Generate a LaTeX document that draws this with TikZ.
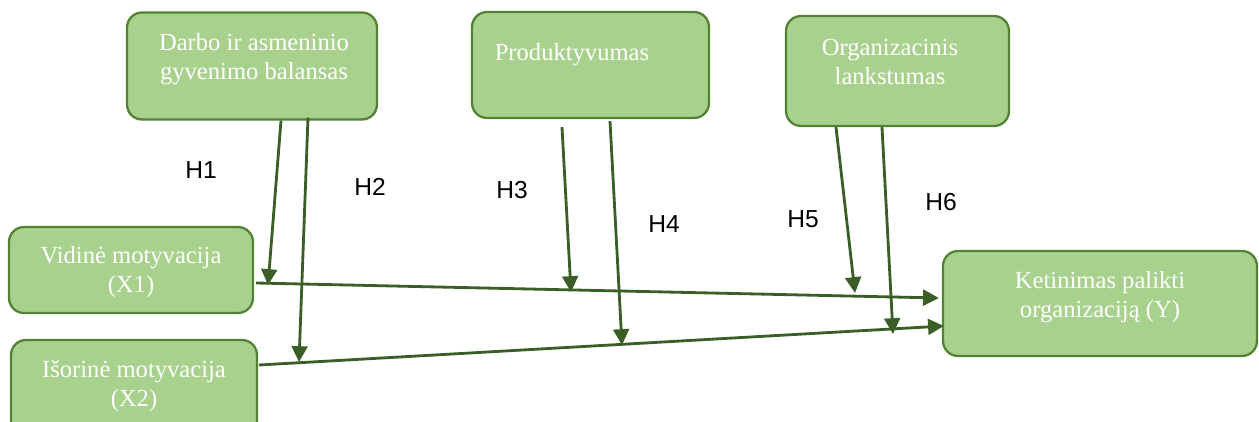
\documentclass[tikz,border=0pt]{standalone}
\usepackage{fontspec}
\setmainfont{Liberation Serif}
\newfontfamily\hfont{Liberation Sans}
\usetikzlibrary{calc,arrows.meta}

\definecolor{boxfill}{HTML}{A9D18E}
\definecolor{boxline}{HTML}{548235}
\definecolor{arrline}{HTML}{3B5E26}

\tikzset{
  varbox/.style={draw=boxline,line width=1.3pt,fill=boxfill,rounded corners=0.3cm},
  boxtext/.style={text=white,align=center,font=\fontsize{14}{16.5}\selectfont},
  arr/.style={draw=arrline,line width=1.6pt,-{Triangle[width=9pt,length=9pt]}},
  hyp/.style={font=\hfont\fontsize{14}{16}\selectfont}
}

\begin{document}
\begin{tikzpicture}[x=0.02cm,y=-0.02cm]
  \useasboundingbox (0,0) rectangle (1259,422);
  % moderators
  \node[varbox,minimum width=5cm,minimum height=2.14cm] (bal) at (252,66) {};
  \node[varbox,minimum width=4.74cm,minimum height=2.12cm] (prod) at (590.5,65) {};
  \node[varbox,minimum width=4.46cm,minimum height=2.2cm] (lank) at (897.5,71) {};
  \node[boxtext] (tbal) at ($(bal.center)+(2,-7)$) {Darbo ir asmeninio\\gyvenimo balansas};
  \node[boxtext] (tprod) at ($(prod.center)+(-18.5,-10)$) {Produktyvumas};
  \node[boxtext] (tlank) at ($(lank.center)+(-7.5,-9)$) {Organizacinis\\lankstumas};
  % independent and dependent variables
  \node[varbox,minimum width=4.88cm,minimum height=1.72cm] (x1) at (131,270) {};
  \node[varbox,minimum width=4.92cm,minimum height=2cm] (x2) at (134,390) {};
  \node[varbox,minimum width=6.28cm,minimum height=2.1cm] (y) at (1100,303.5) {};
  \node[boxtext] (tx1) at ($(x1.center)+(0,2.5)$) {Vidinė motyvacija\\(X1)};
  \node[boxtext] (tx2) at ($(x2.center)+(0,-4)$) {Išorinė motyvacija\\(X2)};
  \node[boxtext] (ty) at ($(y.center)+(0,-6)$) {Ketinimas palikti\\organizaciją (Y)};

  % main paths
  \draw[arr] ($(x1.east)+(2,13)$) -- ($(y.west)+(-3,-5.5)$);
  \draw[arr] ($(x2.east)+(1,-25)$) -- ($(y.west)+(2,22.5)$);

  % moderating arrows
  \coordinate (h1) at (268,285);
  \coordinate (h2) at (299,362);
  \coordinate (h3) at (571,292);
  \coordinate (h4) at (622,345);
  \coordinate (h5) at (855,293);
  \coordinate (h6) at (893,334);
  \draw[arr] ($(bal.south)+(29,0)$) -- (h1);
  \draw[arr] ($(bal.south)+(56,-3)$) -- (h2);
  \draw[arr] ($(prod.south)+(-28.5,8)$) -- (h3);
  \draw[arr] ($(prod.south)+(19.5,2)$) -- (h4);
  \draw[arr] ($(lank.south)+(-61.5,0)$) -- (h5);
  \draw[arr] ($(lank.south)+(-15.5,0)$) -- (h6);

  % hypothesis labels
  \node[hyp] (lh1) at (201,170) {H1};
  \node[hyp] (lh2) at (370,187) {H2};
  \node[hyp] (lh3) at (512,190) {H3};
  \node[hyp] (lh4) at (664,224) {H4};
  \node[hyp] (lh5) at (803,219) {H5};
  \node[hyp] (lh6) at (941,202) {H6};
\end{tikzpicture}
\end{document}
